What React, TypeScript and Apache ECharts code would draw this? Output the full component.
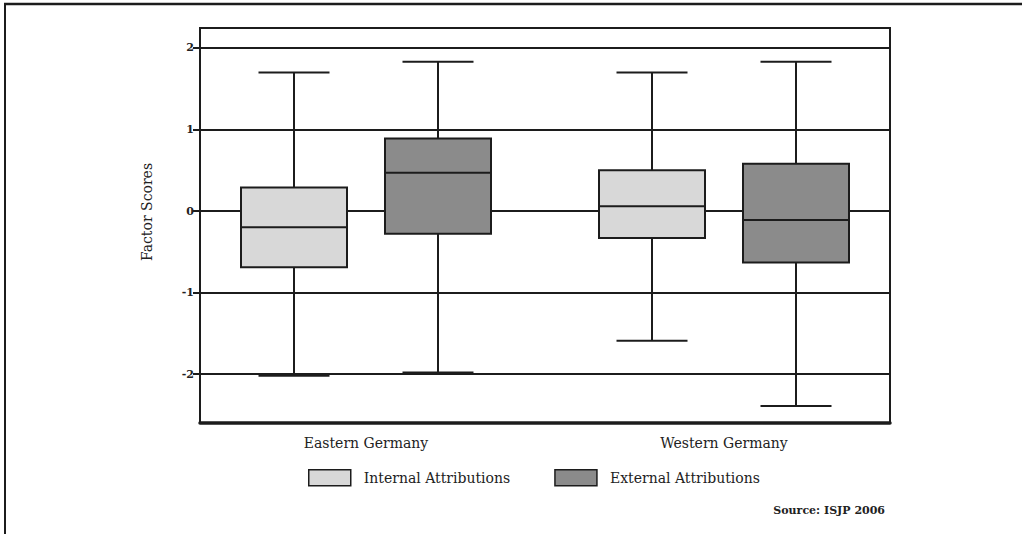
import React, { useEffect, useRef } from "react";
import * as echarts from "echarts";

const categories = ["Eastern Germany", "Western Germany"];
// [min, Q1, median, Q3, max]
const internalAttributions = [
  [-2.02, -0.69, -0.2, 0.29, 1.7],
  [-1.59, -0.33, 0.06, 0.5, 1.7],
];
const externalAttributions = [
  [-1.98, -0.28, 0.47, 0.89, 1.83],
  [-2.39, -0.63, -0.11, 0.58, 1.83],
];
const yTicks = [-2, -1, 0, 1, 2];
const seriesNames = ["Internal Attributions", "External Attributions"];
const Y_MIN = -2.6;
const Y_MAX = 2.245;

const STROKE = "#1c1c1c";
const FONT = "DejaVu Serif";

function makeRender(offset: number, fill: string) {
  return (params: any, api: any) => {
    const ci = api.value(0);
    const pMin = api.coord([ci, api.value(1)]);
    const pQ1 = api.coord([ci, api.value(2)]);
    const pMed = api.coord([ci, api.value(3)]);
    const pQ3 = api.coord([ci, api.value(4)]);
    const pMax = api.coord([ci, api.value(5)]);
    const cx = pMed[0] + offset;
    const hw = 53;
    const cap = 35.5;
    const ls = { stroke: STROKE, lineWidth: 2 };
    return {
      type: "group",
      children: [
        { type: "line", shape: { x1: cx, y1: pMin[1], x2: cx, y2: pQ1[1] }, style: ls },
        { type: "line", shape: { x1: cx, y1: pQ3[1], x2: cx, y2: pMax[1] }, style: ls },
        { type: "line", shape: { x1: cx - cap, y1: pMin[1], x2: cx + cap, y2: pMin[1] }, style: ls },
        { type: "line", shape: { x1: cx - cap, y1: pMax[1], x2: cx + cap, y2: pMax[1] }, style: ls },
        {
          type: "rect",
          shape: { x: cx - hw, y: pQ3[1], width: hw * 2, height: pQ1[1] - pQ3[1] },
          style: { fill, stroke: STROKE, lineWidth: 2 },
        },
        { type: "line", shape: { x1: cx - hw, y1: pMed[1], x2: cx + hw, y2: pMed[1] }, style: ls },
      ],
    };
  };
}

export default function App() {
  const ref = useRef<HTMLDivElement>(null);
  useEffect(() => {
    document.body.style.margin = "0";
    const chart = echarts.init(ref.current!, null, { renderer: "svg" });
    const fills = ["#d8d8d8", "#8b8b8b"];
    const toData = (arr: number[][]) => arr.map((v, i) => [i, ...v]);
    chart.setOption({
      animation: false,
      backgroundColor: "#ffffff",
      grid: [
        { left: 200, right: 132, top: 28, bottom: 111, show: true, borderColor: STROKE, borderWidth: 2, backgroundColor: "transparent" },
        { left: 187, right: 119, top: 28, bottom: 111, show: false },
      ],
      legend: {
        left: 303,
        top: 464,
        itemWidth: 42,
        itemHeight: 16,
        itemGap: 44,
        icon: "rect",
        textStyle: { fontFamily: FONT, fontSize: 14, color: "#222", padding: [0, 0, 0, 8] },
        data: seriesNames.map((n, i) => ({
          name: n,
          itemStyle: { color: fills[i], borderColor: STROKE, borderWidth: 1.5 },
        })),
      },
      xAxis: [
        {
          type: "category",
          gridIndex: 0,
          data: categories,
          axisLine: { show: true, onZero: false, lineStyle: { color: STROKE, width: 3.5 } },
          axisTick: { show: false },
          axisLabel: { show: false },
          splitLine: { show: false },
        },
        {
          type: "category",
          gridIndex: 1,
          data: categories,
          axisLine: { show: false, onZero: false },
          axisTick: { show: false },
          axisLabel: { show: true, margin: 13, fontFamily: FONT, fontSize: 14, color: "#222" },
          splitLine: { show: false },
        },
      ],
      yAxis: [
        {
          type: "value",
          gridIndex: 0,
          min: Y_MIN,
          max: Y_MAX,
          axisLine: { show: true, lineStyle: { color: STROKE, width: 2 } },
          axisTick: { show: true, length: 7, lineStyle: { color: STROKE, width: 2 }, customValues: yTicks },
          axisLabel: {
            show: true,
            margin: 6,
            fontFamily: FONT,
            fontSize: 11,
            fontWeight: "bold",
            color: "#222",
            customValues: yTicks,
          },
          splitLine: { show: true, lineStyle: { color: STROKE, width: 1.8 } },
        },
        {
          type: "value",
          gridIndex: 1,
          min: Y_MIN,
          max: Y_MAX,
          show: false,
          splitLine: { show: false },
        },
      ],
      series: [
        {
          name: seriesNames[0],
          type: "custom",
          xAxisIndex: 1,
          yAxisIndex: 1,
          itemStyle: { color: fills[0] },
          encode: { x: 0, y: [1, 2, 3, 4, 5] },
          renderItem: makeRender(-72, fills[0]),
          data: toData(internalAttributions),
          z: 5,
        },
        {
          name: seriesNames[1],
          type: "custom",
          xAxisIndex: 1,
          yAxisIndex: 1,
          itemStyle: { color: fills[1] },
          encode: { x: 0, y: [1, 2, 3, 4, 5] },
          renderItem: makeRender(72, fills[1]),
          data: toData(externalAttributions),
          z: 5,
        },
      ],
      graphic: [
        { type: "line", shape: { x1: 4, y1: 4, x2: 1022, y2: 4 }, style: { stroke: STROKE, lineWidth: 2.5 } },
        { type: "line", shape: { x1: 5, y1: 3, x2: 5, y2: 534 }, style: { stroke: STROKE, lineWidth: 2 } },
        {
          type: "text",
          x: 147,
          y: 212,
          rotation: Math.PI / 2,
          style: { text: "Factor Scores", fontFamily: FONT, fontSize: 14, fill: "#222", align: "center", verticalAlign: "middle" },
        },
        {
          type: "text",
          x: 885,
          y: 510,
          style: { text: "Source: ISJP 2006", fontFamily: FONT, fontSize: 11, fontWeight: "bold", fill: "#222", align: "right", verticalAlign: "middle" },
        },
      ],
    });
    return () => chart.dispose();
  }, []);
  return <div ref={ref} style={{ width: 1022, height: 534 }} />;
}
